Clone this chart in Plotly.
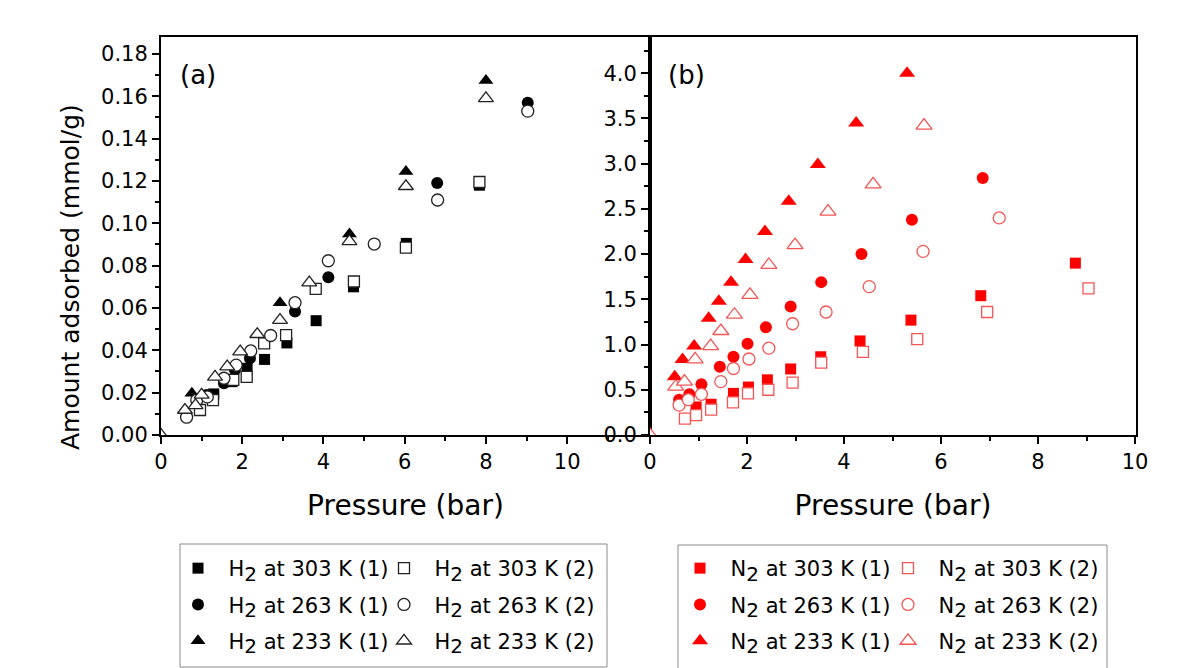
import plotly.graph_objects as go
from plotly.subplots import make_subplots

# ---- H2 isotherms (panel a): pressure in bar, uptake in mmol/g ----
h2_303_1_p = [1.30, 1.75, 2.12, 2.55, 3.10, 3.82, 4.74, 6.04, 7.84]
h2_303_1_q = [0.0194, 0.0252, 0.0315, 0.0357, 0.0435, 0.0540, 0.0700, 0.0905, 0.1180]
h2_303_2_p = [0.96, 1.28, 1.78, 2.11, 2.54, 3.08, 3.81, 4.75, 6.03, 7.84]
h2_303_2_q = [0.0118, 0.0165, 0.0260, 0.0275, 0.0433, 0.0472, 0.0690, 0.0725, 0.0885, 0.1195]

h2_263_1_p = [1.12, 1.55, 1.82, 2.19, 3.30, 4.12, 6.80, 9.03]
h2_263_1_q = [0.0189, 0.0244, 0.0307, 0.0362, 0.0583, 0.0745, 0.1190, 0.1570]
h2_263_2_p = [0.63, 0.88, 1.14, 1.55, 1.85, 2.21, 2.70, 3.30, 4.12, 5.25, 6.81, 9.03]
h2_263_2_q = [0.0084, 0.0165, 0.0180, 0.0268, 0.0330, 0.0397, 0.0470, 0.0625, 0.0823, 0.0902, 0.1110, 0.1530]

h2_233_1_p = [0.76, 2.93, 4.64, 6.03, 8.00]
h2_233_1_q = [0.0197, 0.0625, 0.0950, 0.1245, 0.1675]
h2_233_2_p = [0.00, 0.59, 0.85, 1.00, 1.33, 1.63, 1.95, 2.37, 2.93, 3.65, 4.64, 6.03, 8.00]
h2_233_2_q = [0.0000, 0.0118, 0.0140, 0.0190, 0.0275, 0.0323, 0.0394, 0.0476, 0.0543, 0.0720, 0.0915, 0.1175, 0.1590]

# ---- N2 isotherms (panel b) ----
n2_303_1_p = [0.95, 1.26, 1.72, 2.03, 2.42, 2.90, 3.52, 4.33, 5.38, 6.82, 8.77]
n2_303_1_q = [0.31, 0.34, 0.46, 0.53, 0.61, 0.73, 0.865, 1.04, 1.27, 1.54, 1.90]
n2_303_2_p = [0.72, 0.95, 1.26, 1.71, 2.02, 2.44, 2.94, 3.53, 4.39, 5.51, 6.95, 9.04]
n2_303_2_q = [0.18, 0.22, 0.28, 0.36, 0.46, 0.50, 0.58, 0.80, 0.92, 1.06, 1.36, 1.62]

n2_263_1_p = [0.60, 0.81, 1.06, 1.44, 1.72, 2.01, 2.39, 2.90, 3.53, 4.36, 5.40, 6.86]
n2_263_1_q = [0.39, 0.45, 0.56, 0.755, 0.865, 1.01, 1.19, 1.42, 1.69, 2.00, 2.38, 2.84]
n2_263_2_p = [0.60, 0.79, 1.06, 1.46, 1.72, 2.04, 2.45, 2.94, 3.63, 4.52, 5.63, 7.20]
n2_263_2_q = [0.33, 0.39, 0.45, 0.59, 0.735, 0.84, 0.96, 1.23, 1.36, 1.64, 2.03, 2.40]

n2_233_1_p = [0.51, 0.67, 0.91, 1.21, 1.42, 1.67, 1.97, 2.37, 2.86, 3.46, 4.25, 5.30]
n2_233_1_q = [0.645, 0.836, 0.983, 1.29, 1.48, 1.69, 1.94, 2.25, 2.585, 2.99, 3.45, 4.00]
n2_233_2_p = [0.00, 0.53, 0.71, 0.93, 1.25, 1.46, 1.74, 2.06, 2.45, 2.99, 3.67, 4.60, 5.65]
n2_233_2_q = [0.00, 0.534, 0.59, 0.836, 0.983, 1.15, 1.33, 1.55, 1.88, 2.10, 2.47, 2.77, 3.42]

x_tick_vals = [0, 2, 4, 6, 8, 10]

FONT = "DejaVu Sans"
W, H = 1195, 668
ML, MR, MT, MB = 161, 59, 37, 233
PLOT_W = W - ML - MR
PLOT_H = H - MT - MB
SPLIT = 489 / PLOT_W  # panel (a) width fraction


def px_x(px):
    return (px - ML) / PLOT_W


def px_y(py):
    return (H - MB - py) / PLOT_H


def label(gas, temp, run):
    # full-size, lowered "2" for the formula, with a gap after the symbol
    return ("\u2002" + gas + "<sub><span style='font-size:20px'>2</span></sub>"
            + " at " + temp + " K (" + run + ")")


fig = make_subplots(rows=1, cols=2, horizontal_spacing=0)

black = "#000000"
red = "#ff0000"
red_line = "rgb(245,85,85)"


def add(p, q, name, symbol, filled, color, line_color, col, legend, size):
    if filled:
        marker = dict(symbol=symbol, size=size, color=color,
                      line=dict(width=0, color=color))
    else:
        marker = dict(symbol=symbol, size=size, color="white",
                      line=dict(width=1.3, color=line_color))
    fig.add_trace(
        go.Scatter(x=p, y=q, mode="markers", name=name, marker=marker,
                   legend=legend, legendgroup=legend + name, cliponaxis=True),
        row=1, col=col,
    )


# panel (a): filled series first, open series drawn on top
add(h2_303_1_p, h2_303_1_q, label("H", "303", "1"), "square", True, black, black, 1, "legend", 11)
add(h2_263_1_p, h2_263_1_q, label("H", "263", "1"), "circle", True, black, black, 1, "legend", 12)
add(h2_233_1_p, h2_233_1_q, label("H", "233", "1"), "triangle-up", True, black, black, 1, "legend", 13)
add(h2_303_2_p, h2_303_2_q, label("H", "303", "2"), "square", False, black, "#222", 1, "legend2", 11)
add(h2_263_2_p, h2_263_2_q, label("H", "263", "2"), "circle", False, black, "#222", 1, "legend2", 12)
add(h2_233_2_p, h2_233_2_q, label("H", "233", "2"), "triangle-up", False, black, "#222", 1, "legend2", 13)

# panel (b)
add(n2_303_1_p, n2_303_1_q, label("N", "303", "1"), "square", True, red, red, 2, "legend3", 11)
add(n2_263_1_p, n2_263_1_q, label("N", "263", "1"), "circle", True, red, red, 2, "legend3", 12)
add(n2_233_1_p, n2_233_1_q, label("N", "233", "1"), "triangle-up", True, red, red, 2, "legend3", 14)
add(n2_303_2_p, n2_303_2_q, label("N", "303", "2"), "square", False, red, red_line, 2, "legend4", 11)
add(n2_263_2_p, n2_263_2_q, label("N", "263", "2"), "circle", False, red, red_line, 2, "legend4", 12)
add(n2_233_2_p, n2_233_2_q, label("N", "233", "2"), "triangle-up", False, red, red_line, 2, "legend4", 14)

axis_common = dict(
    showline=True, linewidth=2, linecolor=black, mirror=True,
    ticks="outside", ticklen=7, tickwidth=1.5, tickcolor=black,
    showgrid=False, zeroline=False,
    tickfont=dict(family=FONT, size=21, color=black),
)

fig.update_xaxes(
    domain=[0, SPLIT], range=[0, 12.04], tickvals=x_tick_vals,
    minor=dict(tickvals=[1, 3, 5, 7, 9, 11], ticks="outside", ticklen=4,
               tickwidth=1.5, tickcolor=black),
    title=dict(text="Pressure (bar)", font=dict(family=FONT, size=28, color=black), standoff=22),
    row=1, col=1, **axis_common,
)
fig.update_xaxes(
    domain=[SPLIT, 1], range=[0, 10.02], tickvals=x_tick_vals,
    minor=dict(tickvals=[1, 3, 5, 7, 9], ticks="outside", ticklen=4,
               tickwidth=1.5, tickcolor=black),
    title=dict(text="Pressure (bar)", font=dict(family=FONT, size=28, color=black), standoff=22),
    row=1, col=2, **axis_common,
)
fig.update_yaxes(
    range=[0, 0.188], dtick=0.02, tick0=0, tickformat=".2f",
    minor=dict(dtick=0.01, ticks="outside", ticklen=4, tickwidth=1.5, tickcolor=black),
    row=1, col=1, **axis_common,
)
fig.update_yaxes(
    range=[0, 4.4], dtick=0.5, tick0=0, tickformat=".1f",
    minor=dict(dtick=0.25, ticks="outside", ticklen=4, tickwidth=1.5, tickcolor=black),
    row=1, col=2, **axis_common,
)

# shared y title on the left of panel (a)
fig.add_annotation(text="Amount adsorbed (mmol/g)", xref="paper", yref="paper",
                   x=px_x(70), y=px_y(277), textangle=-90, showarrow=False,
                   xanchor="center", yanchor="middle",
                   font=dict(family=FONT, size=25, color=black))

legend_common = dict(
    xref="container", yref="container", xanchor="left", yanchor="top",
    orientation="v", bgcolor="rgba(0,0,0,0)", borderwidth=0,
    font=dict(family=FONT, size=21, color=black),
    tracegroupgap=6, itemsizing="trace",
)
top = 1 - 548 / H
fig.update_layout(
    legend=dict(x=178 / W, y=top, **legend_common),
    legend2=dict(x=384 / W, y=top, **legend_common),
    legend3=dict(x=680 / W, y=top, **legend_common),
    legend4=dict(x=888 / W, y=top, **legend_common),
)

# frames around the two legend blocks
fig.add_shape(type="rect", xref="paper", yref="paper",
              x0=px_x(180), x1=px_x(607), y0=px_y(667), y1=px_y(544),
              line=dict(color="#8a8a8a", width=1), fillcolor="rgba(0,0,0,0)")
fig.add_shape(type="rect", xref="paper", yref="paper",
              x0=px_x(678), x1=px_x(1107), y0=px_y(672), y1=px_y(545),
              line=dict(color="#8a8a8a", width=1), fillcolor="rgba(0,0,0,0)")

# panel tags
fig.add_annotation(text="(a)", xref="paper", yref="paper", x=px_x(178), y=px_y(75),
                   xanchor="left", yanchor="middle", showarrow=False,
                   font=dict(family=FONT, size=26, color=black))
fig.add_annotation(text="(b)", xref="paper", yref="paper", x=px_x(666), y=px_y(75),
                   xanchor="left", yanchor="middle", showarrow=False,
                   font=dict(family=FONT, size=26, color=black))

fig.update_layout(
    width=W, height=H,
    margin=dict(l=ML, r=MR, t=MT, b=MB, autoexpand=False),
    paper_bgcolor="white", plot_bgcolor="white",
    showlegend=True,
    font=dict(family=FONT, color=black),
)

fig.write_html("out.html")
